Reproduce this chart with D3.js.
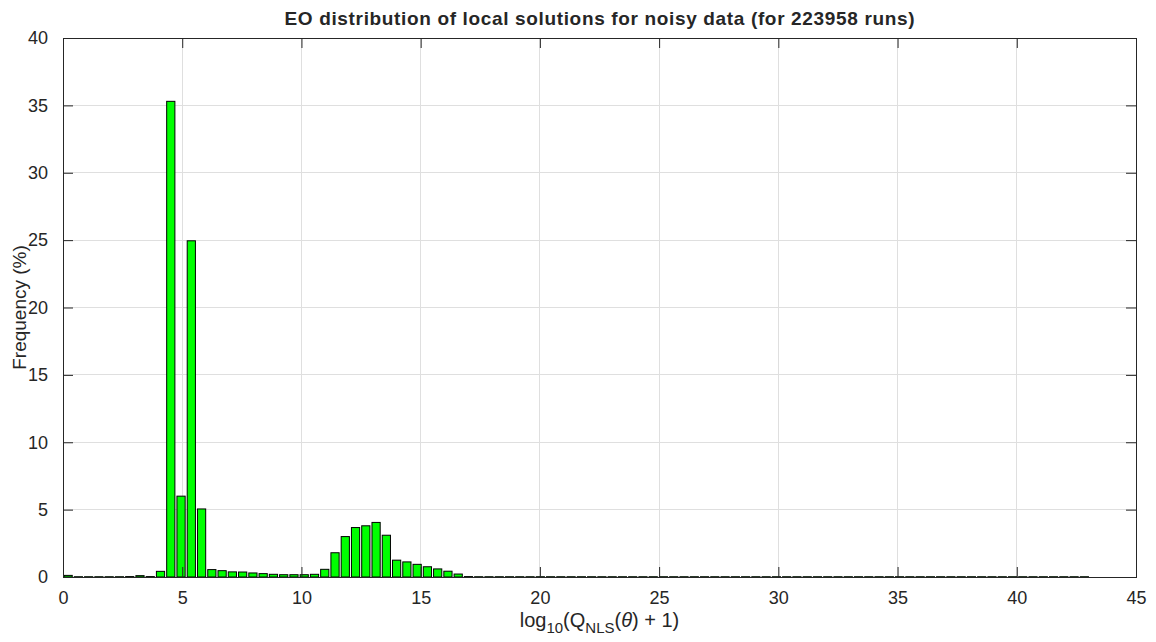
<!DOCTYPE html>
<html>
<head>
<meta charset="utf-8">
<script src="https://cdn.jsdelivr.net/npm/d3@7"></script>
<style>
  html, body { margin: 0; padding: 0; background: #fff; }
  svg { display: block; }
  text { font-family: "Liberation Sans", Arial, Helvetica, sans-serif; fill: #262626; }
</style>
</head>
<body>
<svg id="chart" width="1156" height="642"></svg>
<script>
// Histogram of log10(Q_NLS + 1) over 100 equal bins starting at 0
const binWidth = 0.4305;
const frequency = [
  0.12, 0.02, 0.02, 0.02, 0.02, 0.02, 0.03, 0.10, 0.03, 0.42,
  35.3, 6.0, 24.95, 5.05, 0.55, 0.47, 0.38, 0.37, 0.30, 0.25,
  0.20, 0.17, 0.17, 0.17, 0.20, 0.57, 1.80, 3.00, 3.67, 3.80,
  4.05, 3.10, 1.25, 1.12, 0.94, 0.76, 0.60, 0.43, 0.22, 0.03,
  0.02, 0.02, 0.02, 0.02, 0.02, 0.02, 0.02, 0.02, 0.02, 0.02,
  0.02, 0.02, 0.02, 0.02, 0.02, 0.02, 0.02, 0.02, 0.02, 0.02,
  0.02, 0.02, 0.02, 0.02, 0.02, 0.02, 0.02, 0.02, 0.02, 0.02,
  0.02, 0.02, 0.02, 0.02, 0.02, 0.02, 0.02, 0.02, 0.02, 0.02,
  0.02, 0.02, 0.02, 0.02, 0.02, 0.02, 0.02, 0.02, 0.02, 0.02,
  0.02, 0.02, 0.02, 0.02, 0.02, 0.02, 0.02, 0.02, 0.02, 0.02
];
const xTicks = [0, 5, 10, 15, 20, 25, 30, 35, 40, 45];
const yTicks = [0, 5, 10, 15, 20, 25, 30, 35, 40];
const titleText = "EO distribution of local solutions for noisy data (for 223958 runs)";
const yLabelText = "Frequency (%)";

const svg = d3.select("#chart");
const margin = { left: 63, right: 20, top: 38, bottom: 65 };
const W = 1156, H = 642;
const x0 = margin.left, x1 = W - margin.right;
const y0 = H - margin.bottom, y1 = margin.top;

const x = d3.scaleLinear().domain([0, 45]).range([x0, x1]);
const y = d3.scaleLinear().domain([0, 40]).range([y0, y1]);

const axisColor = "#262626";
const tickLen = 10;

// grid
const grid = svg.append("g");
grid.selectAll("line.gx").data(xTicks.slice(1, -1)).enter().append("line")
  .attr("x1", d => x(d)).attr("x2", d => x(d))
  .attr("y1", y0).attr("y2", y1)
  .attr("stroke", "#dfdfdf").attr("stroke-width", 1).attr("shape-rendering", "crispEdges");
grid.selectAll("line.gy").data(yTicks.slice(1, -1)).enter().append("line")
  .attr("x1", x0).attr("x2", x1)
  .attr("y1", d => y(d)).attr("y2", d => y(d))
  .attr("stroke", "#dfdfdf").attr("stroke-width", 1).attr("shape-rendering", "crispEdges");

// bars (80% of bin width)
const barW = binWidth * 0.8;
svg.append("g").selectAll("rect").data(frequency).enter().append("rect")
  .attr("x", (d, i) => x((i + 0.5) * binWidth - barW / 2))
  .attr("width", x(barW) - x(0))
  .attr("y", d => y(d))
  .attr("height", d => y(0) - y(d))
  .attr("fill", "#00ff00")
  .attr("stroke", "#000")
  .attr("stroke-width", 1);

// axes with inward ticks
const xAxisB = d3.axisBottom(x).tickValues(xTicks).tickSize(-tickLen).tickPadding(14).tickFormat(d3.format("d"));
const xAxisT = d3.axisTop(x).tickValues(xTicks).tickSize(-tickLen).tickFormat("");
const yAxisL = d3.axisLeft(y).tickValues(yTicks).tickSize(-tickLen).tickPadding(15).tickFormat(d3.format("d"));
const yAxisR = d3.axisRight(y).tickValues(yTicks).tickSize(-tickLen).tickFormat("");

function styleAxis(g) {
  g.select(".domain").attr("stroke", axisColor).attr("stroke-width", 1);
  g.selectAll(".tick line").attr("stroke", axisColor).attr("stroke-width", 1);
  g.selectAll(".tick text").attr("font-size", 18).attr("fill", axisColor)
    .style("font-family", '"Liberation Sans", Arial, sans-serif');
}
svg.append("g").attr("transform", `translate(0,${y0})`).call(xAxisB).call(styleAxis);
svg.append("g").attr("transform", `translate(0,${y1})`).call(xAxisT).call(styleAxis);
svg.append("g").attr("transform", `translate(${x0},0)`).call(yAxisL).call(styleAxis);
svg.append("g").attr("transform", `translate(${x1},0)`).call(yAxisR).call(styleAxis);
svg.selectAll(".domain").attr("shape-rendering", "crispEdges");

// title
svg.append("text")
  .attr("x", (x0 + x1) / 2).attr("y", 25)
  .attr("text-anchor", "middle")
  .attr("font-size", 19).attr("font-weight", "bold")
  .attr("textLength", 630).attr("lengthAdjust", "spacing")
  .attr("fill", "#000")
  .text(titleText);

// x label: log10(Q_NLS(θ) + 1)
const xl = svg.append("text")
  .attr("x", (x0 + x1) / 2).attr("y", 627)
  .attr("text-anchor", "middle")
  .attr("font-size", 20);
xl.append("tspan").text("log");
xl.append("tspan").attr("dy", 6).attr("font-size", 15).text("10");
xl.append("tspan").attr("dy", -6).text("(Q");
xl.append("tspan").attr("dy", 6).attr("font-size", 15).text("NLS");
xl.append("tspan").attr("dy", -6).text("(");
xl.append("tspan").attr("font-style", "italic").text("θ");
xl.append("tspan").text(") + 1)");

// y label
svg.append("text")
  .attr("transform", `translate(26,${(y0 + y1) / 2}) rotate(-90)`)
  .attr("text-anchor", "middle")
  .attr("font-size", 19)
  .text(yLabelText);
</script>
</body>
</html>
